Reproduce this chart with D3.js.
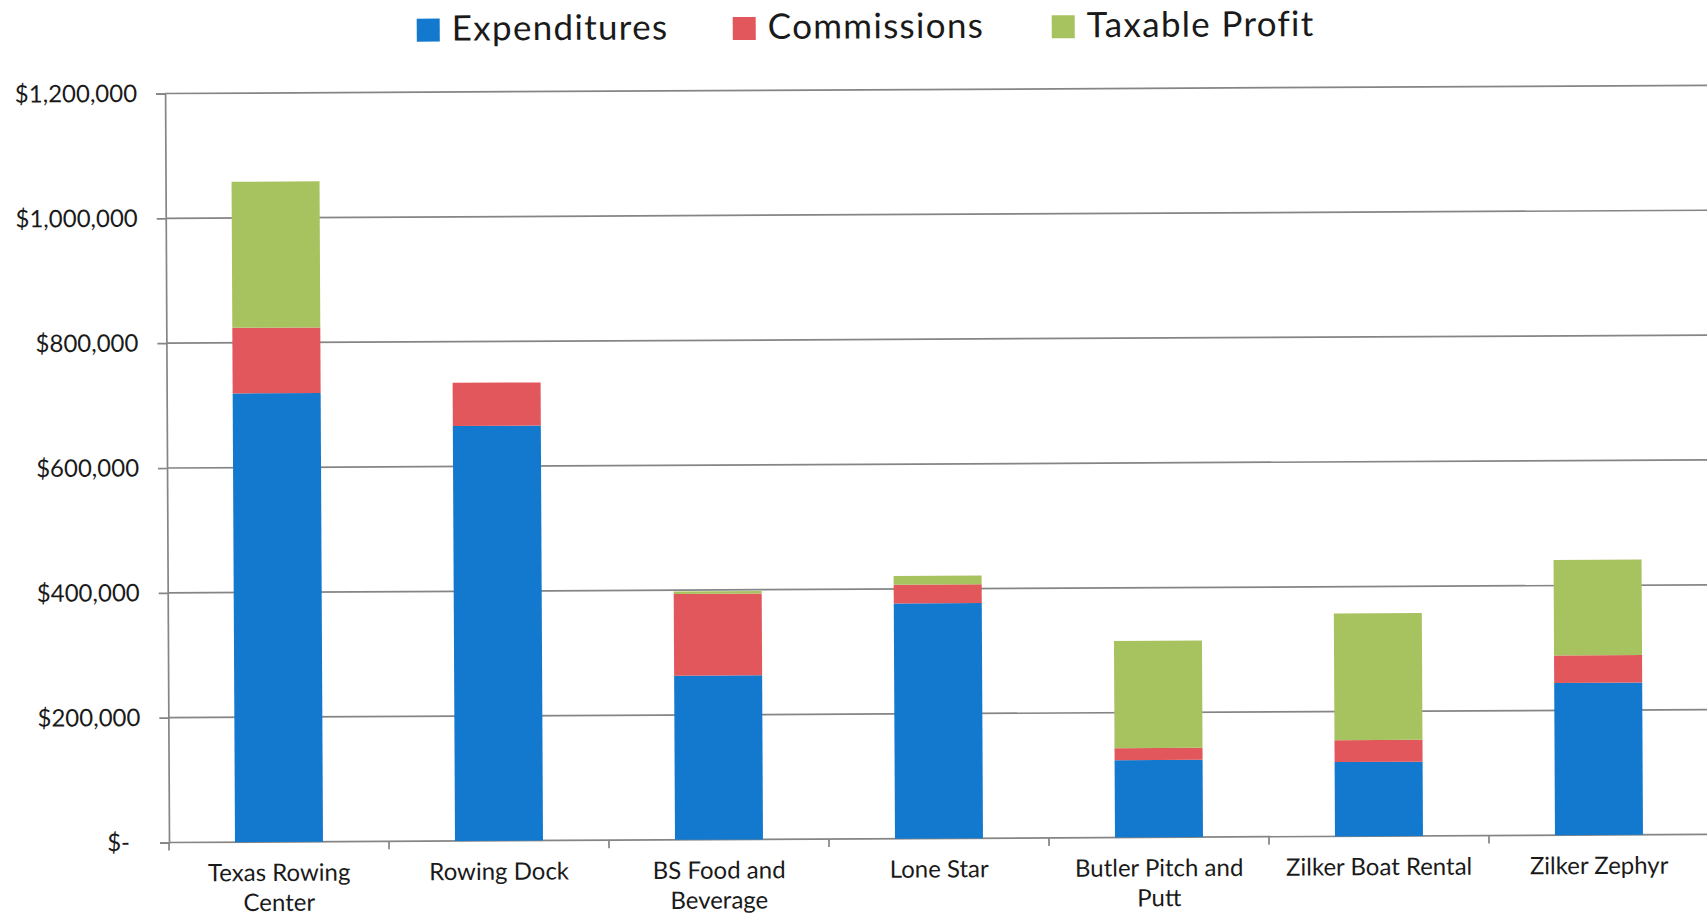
<!DOCTYPE html>
<html>
<head>
<meta charset="utf-8">
<script src="https://cdn.jsdelivr.net/npm/d3@7"></script>
<style>
  body { margin: 0; background: #fff; }
  svg { display: block; font-family: Lato, "Open Sans", sans-serif; }
</style>
</head>
<body>
<svg id="chart" width="1707" height="921"></svg>
<script>
// values (dollars)
const categories = ['Texas Rowing Center', 'Rowing Dock', 'BS Food and Beverage', 'Lone Star',
    'Butler Pitch and Putt', 'Zilker Boat Rental', 'Zilker Zephyr']
const labelLines = [['Texas Rowing', 'Center'], ['Rowing Dock'], ['BS Food and', 'Beverage'], ['Lone Star'],
    ['Butler Pitch and', 'Putt'], ['Zilker Boat Rental'], ['Zilker Zephyr']]
const expenditures = [719000, 665000, 263000, 377000, 124000, 119000, 244000]
const commissions = [105000, 69000, 131000, 30000, 19000, 35000, 44000]
const taxableProfit = [234000, 0, 4000, 14000, 172000, 203000, 153000]
const seriesNames = ['Expenditures', 'Commissions', 'Taxable Profit']
const seriesColors = ['#1379cf', '#e2575b', '#a7c360']
const yTicks = [0, 200000, 400000, 600000, 800000, 1000000, 1200000]

const width = 1707
const plot = { left: 169, right: 1709, top: 93.5, bottom: 842.5 }

const rows = categories.map((c, i) => ({
    cat: c,
    'Expenditures': expenditures[i],
    'Commissions': commissions[i],
    'Taxable Profit': taxableProfit[i]
}))
const stacked = d3.stack().keys(seriesNames)(rows)

const x = d3.scaleBand().domain(categories).range([plot.left, plot.right]).paddingInner(0.6).paddingOuter(0.3)
const y = d3.scaleLinear().domain([0, 1200000]).range([plot.bottom, plot.top])
const color = d3.scaleOrdinal().domain(seriesNames).range(seriesColors)

const svg = d3.select('#chart')
// the scan is tilted a little, so the whole chart is too
const g = svg.append('g').attr('transform', `rotate(-0.3, ${plot.left}, ${plot.bottom})`)

// gridlines
g.append('g')
    .attr('class', 'grid')
    .selectAll('line')
    .data(yTicks)
    .join('line')
    .attr('x1', plot.left)
    .attr('x2', width + 10)
    .attr('y1', d => y(d))
    .attr('y2', d => y(d))
    .attr('stroke', '#858585')
    .attr('stroke-width', 1.7)

// bars
g.append('g')
    .selectAll('g')
    .data(stacked)
    .join('g')
    .attr('fill', d => color(d.key))
    .selectAll('rect')
    .data(d => d)
    .join('rect')
    .attr('x', d => x(d.data.cat))
    .attr('width', x.bandwidth())
    .attr('y', d => y(d[1]))
    .attr('height', d => y(d[0]) - y(d[1]))

// y axis
const yAxis = g.append('g')
    .attr('transform', `translate(${plot.left},0)`)
    .call(d3.axisLeft(y)
        .tickValues(yTicks)
        .tickSize(9)
        .tickPadding(24)
        .tickFormat(d => d === 0 ? '$-' : d3.format('$,')(d)))
    .attr('font-family', null)
    .attr('font-size', null)
yAxis.select('.domain').attr('stroke', '#858585').attr('stroke-width', 1.7)
yAxis.selectAll('.tick line').attr('stroke', '#858585').attr('stroke-width', 1.7)
yAxis.selectAll('.tick text')
    .attr('fill', '#1a1a1a')
    .style('font-size', '24px')
    .attr('x', d => d === 0 ? -39 : -28)

// x axis ticks between categories
const step = x.step()
const bounds = [x(categories[0]) - step * 0.3].concat(categories.map(c => x(c) + x.bandwidth() + step * 0.3))
g.append('g')
    .selectAll('line')
    .data(bounds)
    .join('line')
    .attr('x1', d => d)
    .attr('x2', d => d)
    .attr('y1', plot.bottom)
    .attr('y2', plot.bottom + 8)
    .attr('stroke', '#858585')
    .attr('stroke-width', 1.7)

// category labels
const lbl = g.append('g')
    .selectAll('text')
    .data(categories)
    .join('text')
    .attr('text-anchor', 'middle')
    .attr('fill', '#1a1a1a')
    .style('font-size', '24px')
    .attr('transform', d => `translate(${x(d) + x.bandwidth() / 2},${plot.bottom + 39})`)
lbl.selectAll('tspan')
    .data((d, i) => labelLines[i])
    .join('tspan')
    .attr('x', 0)
    .attr('dy', (d, i) => i === 0 ? 0 : 30)
    .text(d => d)

// legend
const legendX = [421, 737, 1056]
const legend = g.append('g')
    .selectAll('g')
    .data(seriesNames)
    .join('g')
    .attr('transform', (d, i) => `translate(${legendX[i]},20)`)
legend.append('rect')
    .attr('width', 23)
    .attr('height', 23)
    .attr('fill', d => color(d))
legend.append('text')
    .attr('x', 35)
    .attr('y', 22)
    .attr('fill', '#1a1a1a')
    .style('font-size', '35px')
    .style('letter-spacing', '1.3px')
    .text(d => d)
</script>
</body>
</html>
